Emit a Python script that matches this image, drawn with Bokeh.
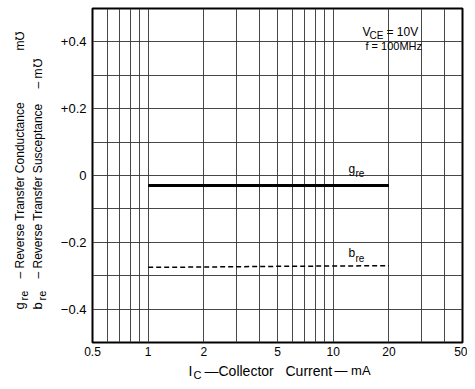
import math
from bokeh.plotting import figure
from bokeh.models import FixedTicker, Label
from bokeh.layouts import row, column
from bokeh.embed import file_html
from bokeh.resources import INLINE

# ---- data ----
ic_ma = [1, 2, 5, 10, 20]
g_re = [-0.03, -0.03, -0.03, -0.03, -0.03]
b_re = [-0.275, -0.274, -0.272, -0.271, -0.27]

x_ticks = [0.5, 1, 2, 5, 10, 20, 50]
x_minor = [0.6, 0.7, 0.8, 0.9, 3, 4, 6, 7, 8, 9, 30, 40]
y_ticks = [-0.4, -0.2, 0, 0.2, 0.4]
y_tick_labels = ["\u22120.4", "\u22120.2", "0", "+0.2", "+0.4"]
y_minor = [-0.5, -0.3, -0.1, 0.1, 0.3, 0.5]

FONT = "Liberation Sans"
YW = 50            # width of the y-title strip
MW, MH = 417, 360  # main figure
XH = 24            # height of x-title strip
FL, FB = 92, 342   # frame left / bottom in page image coords

p = figure(width=MW, height=MH, x_axis_type="log", x_range=(0.5, 50), y_range=(-0.5, 0.5),
           output_backend="svg", toolbar_location=None,
           min_border_left=FL - YW, min_border_right=5, min_border_top=8,
           min_border_bottom=MH - FB)
p.background_fill_color = "white"
p.border_fill_color = "white"
p.outline_line_color = "black"
p.outline_line_width = 2

p.xaxis.ticker = FixedTicker(ticks=x_ticks, minor_ticks=x_minor)
p.yaxis.ticker = FixedTicker(ticks=y_ticks, minor_ticks=y_minor)
p.xaxis.major_label_overrides = {t: ("%g" % t) for t in x_ticks}
p.yaxis.major_label_overrides = {t: l for t, l in zip(y_ticks, y_tick_labels)}
for ax in (p.xaxis, p.yaxis):
    ax.axis_line_color = None
    ax.major_tick_line_color = None
    ax.minor_tick_line_color = None
    ax.major_tick_out = 0
    ax.minor_tick_out = 0
    ax.major_tick_in = 0
    ax.minor_tick_in = 0
    ax.major_label_text_font = FONT
    ax.major_label_text_color = "black"
p.xaxis.major_label_text_font_size = "12px"
p.yaxis.major_label_text_font_size = "13px"
p.xaxis.major_label_standoff = 4
p.yaxis.major_label_standoff = 6

for g in (p.xgrid, p.ygrid):
    g.grid_line_color = "#333333"
    g.grid_line_width = 1
    g.grid_line_alpha = 0.9
    g.minor_grid_line_color = "#333333"
    g.minor_grid_line_width = 1
    g.minor_grid_line_alpha = 0.9

p.line(ic_ma, g_re, line_color="black", line_width=3)
p.line(ic_ma, b_re, line_color="black", line_width=1.5, line_dash="5 3")


def lab(fig, text, x, y, size=12, angle=0.0, align="left", baseline="middle"):
    fig.add_layout(Label(x=x, y=y, x_units="screen", y_units="screen",
                         text=text, text_font=FONT, text_font_size="%dpx" % size,
                         text_color="black", angle=angle, text_align=align,
                         text_baseline=baseline))


def mlab(text, ix, iy, size=12):
    lab(p, text, ix - FL, FB - iy, size)

# condition box
mlab("V", 362, 31, 12)
mlab("CE", 369, 35, 10)
mlab("= 10V", 386, 31, 12)
mlab("f = 100MHz", 365, 45, 11)

# curve labels
mlab("g", 348, 168, 12)
mlab("re", 355, 173, 10)
mlab("b", 348, 252, 12)
mlab("re", 355, 258, 10)


def strip(w, h):
    f = figure(width=w, height=h, x_range=(0, w), y_range=(0, h),
               output_backend="svg", toolbar_location=None,
               x_axis_location=None, y_axis_location=None,
               min_border=0, min_border_left=0, min_border_right=0,
               min_border_top=0, min_border_bottom=0)
    f.grid.visible = False
    f.outline_line_color = None
    f.background_fill_color = "white"
    f.border_fill_color = "white"
    return f

# y title strip (page x = strip x, page y = MH - strip y)
yf = strip(YW, MH)
R = math.pi / 2


def ylab(text, ix, iy, size=12):
    lab(yf, text, ix, MH - iy, size, angle=R)

ylab("g", 19, 327, 13)
ylab("re", 23, 318, 11)
ylab("\u2013 Reverse  Transfer  Conductance", 19, 296)
ylab("m\u2127", 19, 68)
ylab("b", 37, 327, 13)
ylab("re", 41, 318, 11)
ylab("\u2013 Reverse  Transfer  Susceptance", 37, 296)
ylab("\u2013 m\u2127", 37, 106)

# x title strip
xf = strip(YW + MW, XH)


def xlab(text, ix, iy, size=14):
    lab(xf, text, ix, MH + XH - iy, size)

xlab("I", 188, 370)
xlab("C", 193, 374, 11)
xlab("\u2014Collector", 204, 370)
xlab("Current", 285, 370)
xlab("\u2014 mA", 334, 370, 13)

layout = column(row(yf, p), xf)
open("out.html", "w").write(file_html(layout, INLINE))
